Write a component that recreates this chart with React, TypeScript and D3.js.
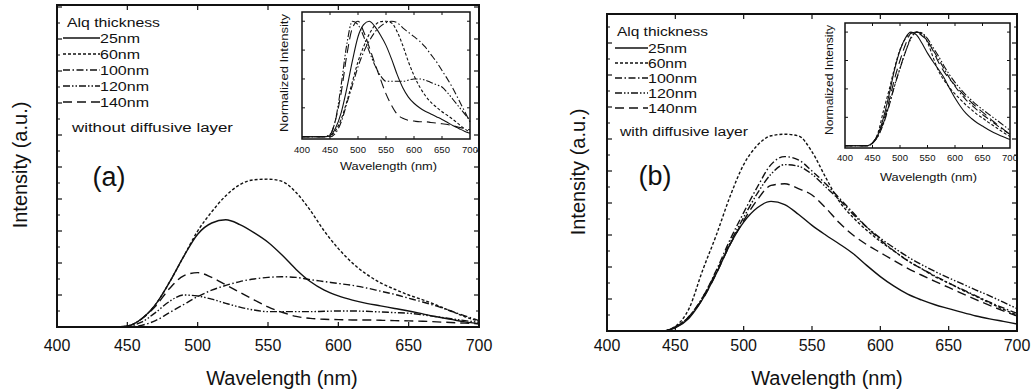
import { useEffect, useRef } from "react";
import * as d3 from "d3";

// wavelength grid (nm) shared by every curve
const wavelengths = [400, 410, 420, 430, 440, 450, 460, 470, 480, 490, 500, 510, 520, 530, 540, 550, 560, 570, 580, 590, 600, 610, 620, 630, 640, 650, 660, 670, 680, 690, 700];
const xTicks = [400, 450, 500, 550, 600, 650, 700];
const thicknessLabels = ["25nm", "60nm", "100nm", "120nm", "140nm"];

// (a) without diffusive layer, intensity in tick units
const a25 = [0, 0, 0, 0, 0, 0.03, 0.25, 0.7, 1.4, 2.2, 2.9, 3.25, 3.35, 3.2, 2.95, 2.65, 2.25, 1.8, 1.42, 1.15, 0.97, 0.84, 0.74, 0.66, 0.58, 0.5, 0.41, 0.32, 0.24, 0.16, 0.1];
const a60 = [0, 0, 0, 0, 0, 0.03, 0.25, 0.7, 1.4, 2.2, 3.0, 3.6, 4.1, 4.45, 4.6, 4.62, 4.55, 4.2, 3.65, 3.0, 2.45, 2.0, 1.65, 1.38, 1.18, 1.0, 0.85, 0.68, 0.5, 0.32, 0.18];
const a100 = [0, 0, 0, 0, 0, 0, 0.05, 0.2, 0.45, 0.7, 0.95, 1.15, 1.3, 1.42, 1.5, 1.55, 1.57, 1.55, 1.48, 1.42, 1.36, 1.3, 1.22, 1.12, 1.02, 0.9, 0.78, 0.65, 0.5, 0.35, 0.2];
const a120 = [0, 0, 0, 0, 0, 0.02, 0.15, 0.45, 0.8, 1.0, 0.97, 0.87, 0.74, 0.62, 0.53, 0.48, 0.48, 0.48, 0.48, 0.49, 0.5, 0.5, 0.49, 0.47, 0.45, 0.43, 0.38, 0.32, 0.26, 0.2, 0.14];
const a140 = [0, 0, 0, 0, 0, 0.03, 0.25, 0.65, 1.2, 1.6, 1.7, 1.55, 1.32, 1.08, 0.85, 0.63, 0.46, 0.33, 0.27, 0.24, 0.23, 0.22, 0.22, 0.21, 0.2, 0.19, 0.18, 0.16, 0.14, 0.12, 0.1];

// (b) with diffusive layer
const b25 = [0, 0, 0, 0, 0, 0.1, 0.4, 1.0, 1.8, 2.7, 3.4, 3.85, 4.05, 3.95, 3.65, 3.3, 3.0, 2.72, 2.42, 2.05, 1.7, 1.4, 1.15, 0.97, 0.82, 0.7, 0.58, 0.47, 0.38, 0.3, 0.22];
const b60 = [0, 0, 0, 0, 0, 0.15, 0.7, 1.9, 3.0, 4.2, 5.2, 5.8, 6.1, 6.15, 6.1, 5.6, 4.8, 4.05, 3.55, 3.15, 2.8, 2.5, 2.2, 1.95, 1.7, 1.5, 1.28, 1.08, 0.88, 0.68, 0.5];
const b100 = [0, 0, 0, 0, 0, 0.12, 0.45, 1.05, 1.9, 2.85, 3.7, 4.5, 5.2, 5.45, 5.35, 5.0, 4.6, 4.15, 3.7, 3.25, 2.85, 2.5, 2.2, 1.95, 1.72, 1.5, 1.3, 1.1, 0.9, 0.72, 0.55];
const b120 = [0, 0, 0, 0, 0, 0.12, 0.45, 1.05, 1.85, 2.75, 3.55, 4.3, 4.9, 5.2, 5.15, 4.9, 4.5, 4.1, 3.65, 3.25, 2.9, 2.6, 2.32, 2.08, 1.86, 1.66, 1.47, 1.28, 1.1, 0.9, 0.7];
const b140 = [0, 0, 0, 0, 0, 0.12, 0.45, 1.0, 1.8, 2.7, 3.45, 4.1, 4.55, 4.6, 4.45, 4.25, 3.85, 3.38, 3.0, 2.7, 2.45, 2.2, 1.96, 1.75, 1.55, 1.36, 1.17, 0.98, 0.8, 0.63, 0.47];

const dashes = ["", "3,2", "7,2.5,1.5,2.5", "7,2,1.5,2,1.5,2", "9,5"];
const FONT = "Liberation Sans, Arial, sans-serif";
const INK = "#111";

const panels = [
  {
    left: 57, right: 479, top: 5, bottom: 327,
    series: [a25, a60, a100, a120, a140],
    tag: "(a)", tagX: 109, tagY: 186,
    titleX: 282, yTitleX: 20, yTitleY: 165,
    legend: { x0: 63, x1: 100, rows: [38, 54, 70, 86, 102], labelW: [40, 40, 49, 49, 49], head: [67, 27, 93], note: "without diffusive layer", noteAt: [72, 132, 161] },
    inset: { left: 302, right: 470, top: 12, bottom: 139, labelY: 153, titleY: 170, titleX: 388, yTitleX: 288, yTitleY: 73, yTitleW: 118 },
  },
  {
    left: 607, right: 1017, top: 14, bottom: 331,
    series: [b25, b60, b100, b120, b140],
    tag: "(b)", tagX: 655, tagY: 185,
    titleX: 827, yTitleX: 578, yTitleY: 172,
    legend: { x0: 615, x1: 648, rows: [48, 63, 78, 93, 108], labelW: [39, 39, 49, 49, 49], head: [617, 36, 91], note: "with diffusive layer", noteAt: [620, 136, 128] },
    inset: { left: 845, right: 1010, top: 23, bottom: 148, labelY: 161, titleY: 181, titleX: 928, yTitleX: 833, yTitleY: 80, yTitleW: 110 },
  },
];

function drawPanel(svg: any, p: any) {
  const g = svg.append("g");
  const x = d3.scaleLinear().domain([400, 700]).range([p.left, p.right]);
  const yMax = (p.bottom - p.top) / 32;
  const y = d3.scaleLinear().domain([0, yMax]).range([p.bottom, p.top]);
  const line = d3.line<number>()
    .x((_, i) => x(wavelengths[i]))
    .y(d => y(d))
    .curve(d3.curveMonotoneX);

  g.selectAll(".curve")
    .data(p.series)
    .join("path")
    .attr("d", (d: number[]) => line(d))
    .attr("fill", "none")
    .attr("stroke", INK)
    .attr("stroke-width", 1.4)
    .attr("stroke-dasharray", (_: any, i: number) => dashes[i]);

  // frame + inward ticks
  g.append("rect")
    .attr("x", p.left).attr("y", p.top)
    .attr("width", p.right - p.left).attr("height", p.bottom - p.top)
    .attr("fill", "none").attr("stroke", INK).attr("stroke-width", 2);

  const yMajor = d3.range(1, Math.floor(yMax) + 1);
  const yMinor = d3.range(0.5, yMax, 1);
  [[p.left, 1], [p.right, -1]].forEach(([x0, s]) => {
    g.selectAll(null).data(yMajor).join("line")
      .attr("x1", x0).attr("x2", x0 + s * 5)
      .attr("y1", (d: number) => y(d)).attr("y2", (d: number) => y(d))
      .attr("stroke", INK).attr("stroke-width", 1.2);
    g.selectAll(null).data(yMinor).join("line")
      .attr("x1", x0).attr("x2", x0 + s * 3)
      .attr("y1", (d: number) => y(d)).attr("y2", (d: number) => y(d))
      .attr("stroke", INK).attr("stroke-width", 1);
  });
  [[p.bottom, -1], [p.top, 1]].forEach(([y0, s]) => {
    g.selectAll(null).data(xTicks.slice(1, -1)).join("line")
      .attr("x1", (d: number) => x(d)).attr("x2", (d: number) => x(d))
      .attr("y1", y0).attr("y2", y0 + s * 5)
      .attr("stroke", INK).attr("stroke-width", 1.2);
  });

  g.selectAll(null).data(xTicks).join("text")
    .attr("x", (d: number) => x(d)).attr("y", 351)
    .attr("text-anchor", "middle")
    .attr("font-size", 16).attr("font-family", FONT).attr("fill", INK)
    .text((d: number) => d);

  g.append("text")
    .attr("x", p.titleX).attr("y", 385)
    .attr("text-anchor", "middle")
    .attr("font-size", 20).attr("font-family", FONT).attr("fill", INK)
    .text("Wavelength (nm)");

  g.append("text")
    .attr("transform", `translate(${p.yTitleX},${p.yTitleY}) rotate(-90)`)
    .attr("text-anchor", "middle").attr("dy", "0.35em")
    .attr("font-size", 20).attr("font-family", FONT).attr("fill", INK)
    .text("Intensity (a.u.)");

  g.append("text")
    .attr("x", p.tagX).attr("y", p.tagY)
    .attr("text-anchor", "middle")
    .attr("font-size", 27).attr("font-family", FONT).attr("fill", INK)
    .text(p.tag);

  // legend
  const lg = p.legend;
  g.append("text")
    .attr("x", lg.head[0]).attr("y", lg.head[1])
    .attr("textLength", lg.head[2]).attr("lengthAdjust", "spacingAndGlyphs")
    .attr("font-size", 13).attr("font-family", FONT).attr("fill", INK)
    .text("Alq thickness");
  thicknessLabels.forEach((label, i) => {
    const yy = lg.rows[i];
    g.append("line")
      .attr("x1", lg.x0).attr("x2", lg.x1).attr("y1", yy).attr("y2", yy)
      .attr("stroke", INK).attr("stroke-width", 1.4)
      .attr("stroke-dasharray", dashes[i]);
    g.append("text")
      .attr("x", lg.x1).attr("y", yy + 5)
      .attr("textLength", lg.labelW[i]).attr("lengthAdjust", "spacingAndGlyphs")
      .attr("font-size", 13).attr("font-family", FONT).attr("fill", INK)
      .text(label);
  });
  g.append("text")
    .attr("x", lg.noteAt[0]).attr("y", lg.noteAt[1])
    .attr("textLength", lg.noteAt[2]).attr("lengthAdjust", "spacingAndGlyphs")
    .attr("font-size", 12).attr("font-family", FONT).attr("fill", INK)
    .text(lg.note);

  // inset: normalized spectra
  const ins = p.inset;
  const xi = d3.scaleLinear().domain([400, 700]).range([ins.left, ins.right]);
  const yi = d3.scaleLinear().domain([-0.02, 1.08]).range([ins.bottom, ins.top]);
  const lineI = d3.line<number>()
    .x((_, i) => xi(wavelengths[i]))
    .y(d => yi(d))
    .curve(d3.curveMonotoneX);
  const gi = g.append("g");
  gi.append("rect")
    .attr("x", ins.left).attr("y", ins.top)
    .attr("width", ins.right - ins.left).attr("height", ins.bottom - ins.top)
    .attr("fill", "#fff");
  gi.selectAll(".icurve")
    .data(p.series.map((s: number[]) => s.map(v => v / (d3.max(s) as number))))
    .join("path")
    .attr("d", (d: number[]) => lineI(d))
    .attr("fill", "none")
    .attr("stroke", INK)
    .attr("stroke-width", 1.1)
    .attr("stroke-dasharray", (_: any, i: number) => dashes[i]);
  gi.append("rect")
    .attr("x", ins.left).attr("y", ins.top)
    .attr("width", ins.right - ins.left).attr("height", ins.bottom - ins.top)
    .attr("fill", "none").attr("stroke", INK).attr("stroke-width", 1.5);
  const yiTicks = [0.25, 0.5, 0.75, 1.0];
  [[ins.left, 1], [ins.right, -1]].forEach(([x0, s]) => {
    gi.selectAll(null).data(yiTicks).join("line")
      .attr("x1", x0).attr("x2", x0 + s * 3)
      .attr("y1", (d: number) => yi(d)).attr("y2", (d: number) => yi(d))
      .attr("stroke", INK);
  });
  [[ins.bottom, -1], [ins.top, 1]].forEach(([y0, s]) => {
    gi.selectAll(null).data(xTicks.slice(1, -1)).join("line")
      .attr("x1", (d: number) => xi(d)).attr("x2", (d: number) => xi(d))
      .attr("y1", y0).attr("y2", y0 + s * 3)
      .attr("stroke", INK);
  });
  gi.selectAll(null).data(xTicks).join("text")
    .attr("x", (d: number) => xi(d)).attr("y", ins.labelY)
    .attr("text-anchor", "middle")
    .attr("font-size", 9.5).attr("font-family", FONT).attr("fill", INK)
    .text((d: number) => d);
  gi.append("text")
    .attr("x", ins.titleX - 48).attr("y", ins.titleY)
    .attr("textLength", 97).attr("lengthAdjust", "spacingAndGlyphs")
    .attr("font-size", 11).attr("font-family", FONT).attr("fill", INK)
    .text("Wavelength (nm)");
  gi.append("text")
    .attr("transform", `translate(${ins.yTitleX},${ins.yTitleY + ins.yTitleW / 2}) rotate(-90)`)
    .attr("textLength", ins.yTitleW).attr("lengthAdjust", "spacingAndGlyphs")
    .attr("font-size", 10).attr("font-family", FONT).attr("fill", INK)
    .text("Normalized Intensity");
}

export default function App() {
  const ref = useRef<SVGSVGElement>(null);

  useEffect(() => {
    const svg = d3.select(ref.current);
    svg.selectAll("*").remove();
    panels.forEach(p => drawPanel(svg, p));
  }, []);

  return (
    <svg
      ref={ref}
      width={1034}
      height={392}
      style={{ position: "absolute", left: 0, top: 0, background: "#fff" }}
    />
  );
}
